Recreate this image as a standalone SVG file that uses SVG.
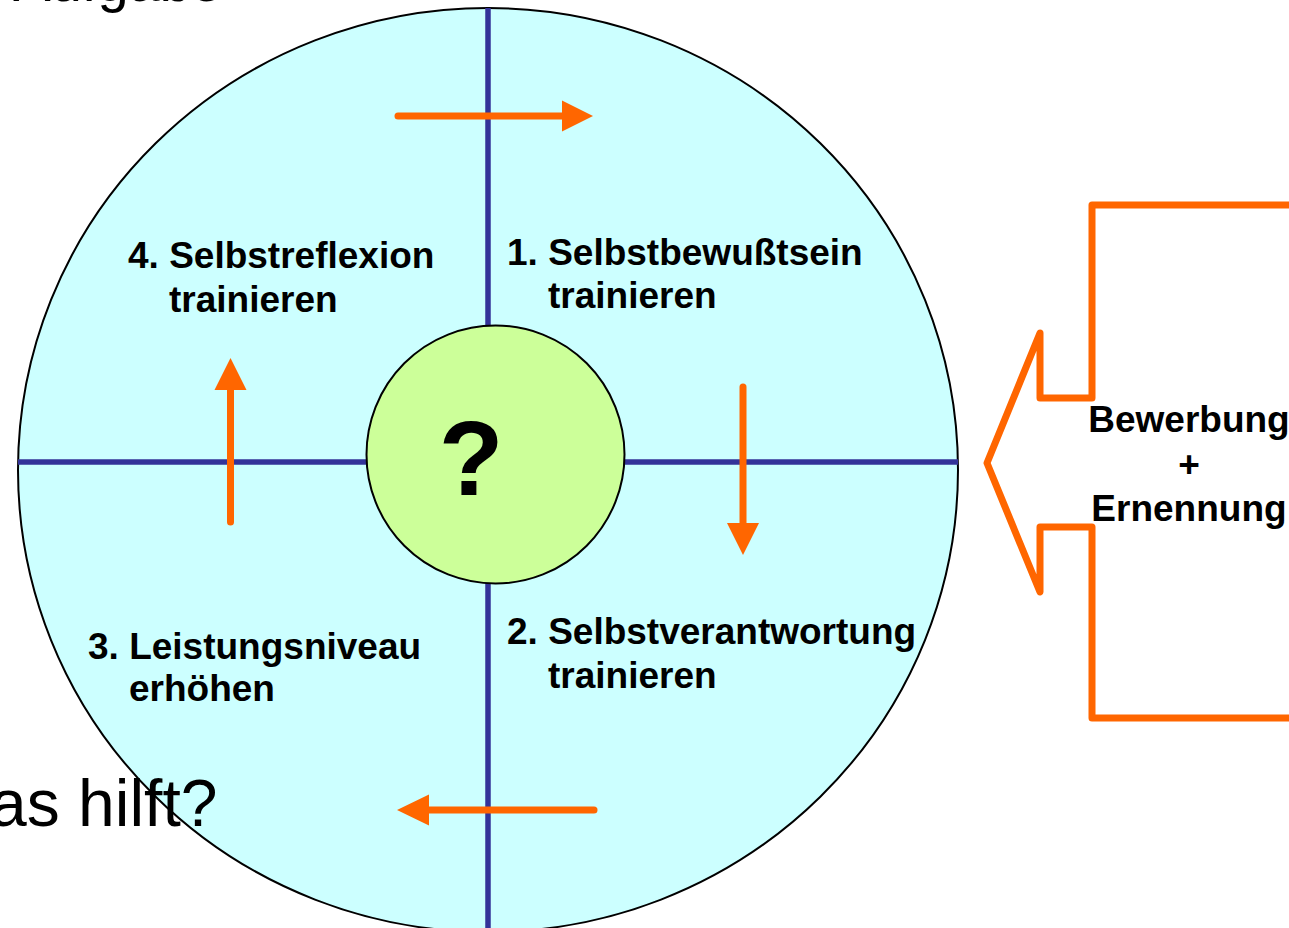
<svg xmlns="http://www.w3.org/2000/svg" width="1289" height="928" viewBox="0 0 1289 928">
<style>
.lbl{font-family:"Liberation Sans",Arial,sans-serif;font-weight:bold;font-size:37px;fill:#000}
.big{font-family:"Liberation Sans",Arial,sans-serif;font-size:66px;fill:#000}
.axis{stroke:#333399;stroke-width:5.5;fill:none}
.arr{stroke:#FF6600;stroke-width:7;stroke-linecap:round;fill:none}
.head{fill:#FF6600}
</style>
<rect width="1289" height="928" fill="#fff"/>
<g id="wheel">
<ellipse cx="488" cy="470" rx="470" ry="462" fill="#CCFFFF" stroke="#000" stroke-width="2"/>
</g>
<g id="axes">
<line class="axis" x1="488" y1="8" x2="488" y2="928"/>
<line class="axis" x1="18" y1="462" x2="958" y2="462"/>
</g>
<text class="big" x="222" y="1" text-anchor="end" style="font-size:56px">n Aufgabe</text>
<text class="big" x="-10" y="826">as hilft?</text>
<g id="center">
<circle cx="495.5" cy="454.5" r="129" fill="#CCFF99" stroke="#000" stroke-width="2"/>
<text x="471" y="495" text-anchor="middle" style="font-family:'Liberation Sans',Arial,sans-serif;font-weight:bold;font-size:106px">?</text>
</g>
<g id="q1"><text class="lbl" x="507" y="265">1. Selbstbewußtsein</text><text class="lbl" x="548" y="308">trainieren</text></g>
<g id="q2"><text class="lbl" x="507" y="644">2. Selbstverantwortung</text><text class="lbl" x="548" y="688">trainieren</text></g>
<g id="q3"><text class="lbl" x="88" y="659">3. Leistungsniveau</text><text class="lbl" x="129" y="701">erhöhen</text></g>
<g id="q4"><text class="lbl" x="128" y="268">4. Selbstreflexion</text><text class="lbl" x="169" y="312">trainieren</text></g>
<g id="connectors">
<line class="arr" x1="398" y1="116" x2="564" y2="116"/>
<polygon class="head" points="562,100.5 593,116 562,131.5"/>
<line class="arr" x1="743" y1="387" x2="743" y2="525"/>
<polygon class="head" points="727,523 759,523 743,555"/>
<line class="arr" x1="594" y1="810" x2="428" y2="810"/>
<polygon class="head" points="429,794.5 397,810 429,825.5"/>
<line class="arr" x1="230.5" y1="522" x2="230.5" y2="388"/>
<polygon class="head" points="214.5,390 246.5,390 230.5,358"/>
</g>
<g id="input">
<polyline points="1295,205 1092,205 1092,398 1040,398 1040,333 987,463 1040,592 1040,527 1092,527 1092,718 1295,718" fill="none" stroke="#FF6600" stroke-width="7" stroke-linejoin="round"/>
<text class="lbl" x="1189" y="432" text-anchor="middle">Bewerbung</text>
<text class="lbl" x="1189" y="477" text-anchor="middle">+</text>
<text class="lbl" x="1189" y="521" text-anchor="middle">Ernennung</text>
</g>
</svg>
